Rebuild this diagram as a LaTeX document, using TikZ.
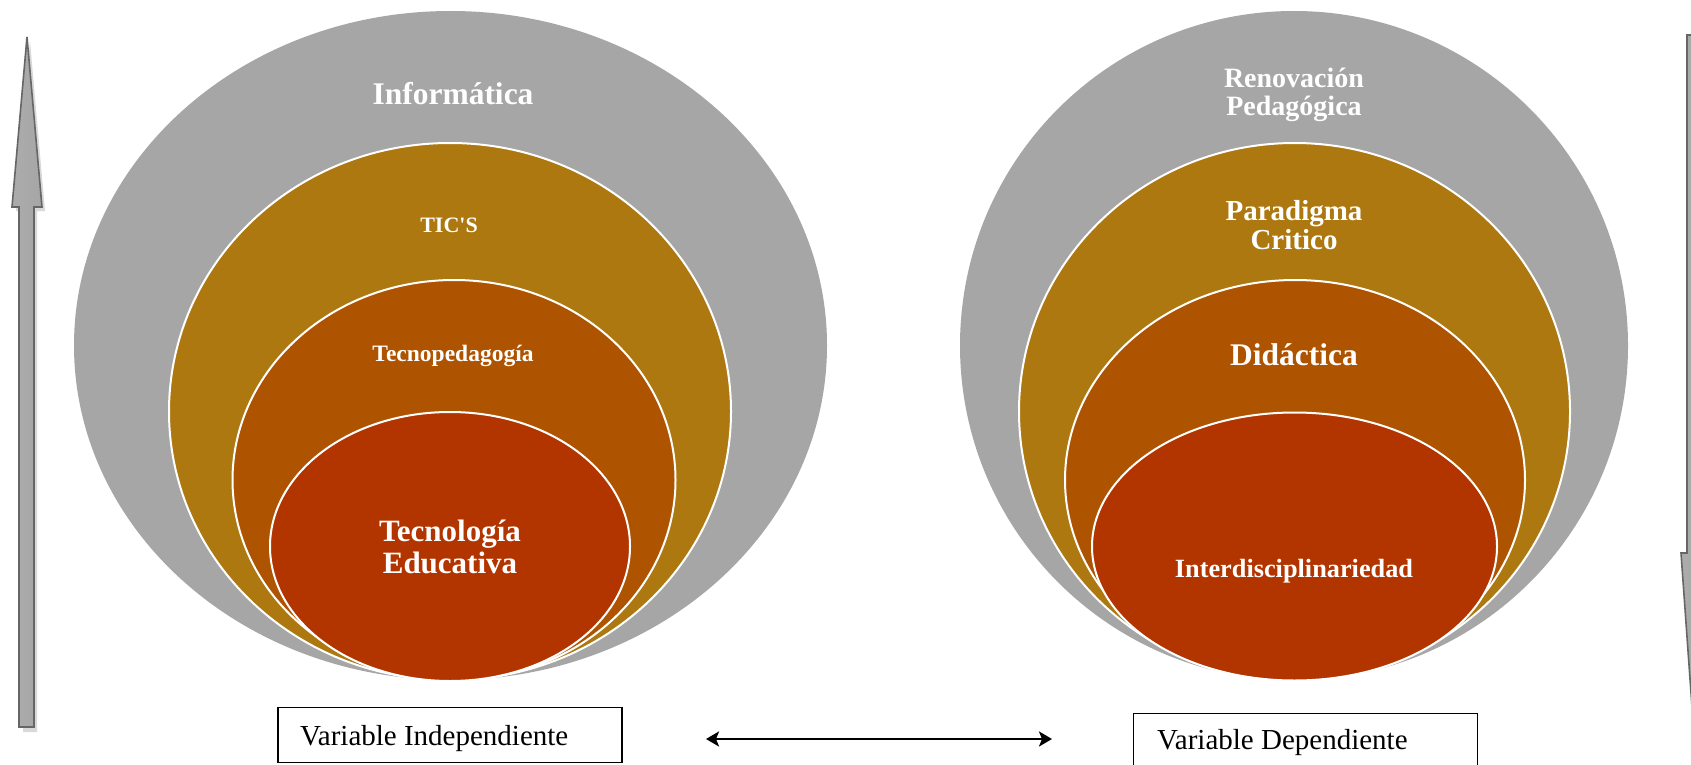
\documentclass[tikz,border=0pt]{standalone}
\usepackage{fontspec}
\setmainfont{Liberation Serif}
\usetikzlibrary{arrows.meta}
\definecolor{ringgray}{HTML}{A6A6A6}
\definecolor{ringgold}{HTML}{AC780F}
\definecolor{ringmid}{HTML}{AE5300}
\definecolor{ringred}{HTML}{B23500}
\definecolor{arrowline}{HTML}{666666}
\tikzset{
  ring/.style={draw=white, line width=2pt},
  lbl/.style={text=white, font=\bfseries, align=center, inner sep=0pt},
  varbox/.style={draw=black, line width=1.6pt, minimum width=344pt, minimum height=55pt, inner sep=0pt},
  vartext/.style={font=\fontsize{29}{32}\selectfont, anchor=west, inner sep=0pt},
  bigarrow/.style={draw=arrowline, line width=1.6pt, left color=gray!65, middle color=gray!30, right color=gray!70},
  arrowshadow/.style={fill=gray!30, draw=none},
  link/.style={line width=2.4pt, {Stealth[length=13pt,width=15pt,inset=3pt]}-{Stealth[length=13pt,width=15pt,inset=3pt]}}
}
\begin{document}
\begin{tikzpicture}[x=1pt,y=-1pt]
\useasboundingbox (0,0) rectangle (1691,765);
\clip (0,0) rectangle (1691,765);
\fill[white] (0,0) rectangle (1691,765);

% ---- left vertical arrow ----
\fill[arrowshadow] (30,41) -- (45,211) -- (37,211) -- (37,732) -- (23,732) -- (23,211) -- (16,211) -- cycle;
\path[bigarrow] (27,37) -- (42,207) -- (34,207) -- (34,727) -- (19,727) -- (19,207) -- (12,207) -- cycle;

% ---- right vertical arrow ----
\fill[arrowshadow] (1690,39) -- (1706,39) -- (1706,557) -- (1712,557) -- (1698,740) -- (1685,557) -- (1690,557) -- cycle;
\path[bigarrow] (1687,35) -- (1701,35) -- (1701,553) -- (1707,553) -- (1694,735) -- (1681,553) -- (1687,553) -- cycle;

% ---- left target ----
\fill[ringgray] (450.5,345.5) ellipse [x radius=376.5pt, y radius=334.5pt];
\filldraw[ring, fill=ringgold] (450,411.5) ellipse [x radius=281pt, y radius=268.5pt];
\filldraw[ring, fill=ringmid] (454,480) ellipse [x radius=221.5pt, y radius=200pt];
\filldraw[ring, fill=ringred] (450,546.5) ellipse [x radius=180pt, y radius=134.5pt];

\node[lbl, font=\bfseries\fontsize{31.5}{32}\selectfont] (inf) at (453,94) {Informática};
\node[lbl, font=\bfseries\fontsize{22}{24}\selectfont] (tics) at (449,225) {TIC\textquotesingle S};
\node[lbl, font=\bfseries\fontsize{23.5}{25}\selectfont] (tecp) at (453,356) {Tecnopedagogía};
\node[lbl, font=\bfseries\fontsize{31}{32}\selectfont] (tece) at (450,547) {Tecnología\\Educativa};

% ---- right target ----
\fill[ringgray] (1294,345.5) ellipse [x radius=334pt, y radius=334.5pt];
\filldraw[ring, fill=ringgold] (1294.5,411.5) ellipse [x radius=275.5pt, y radius=268.5pt];
\filldraw[ring, fill=ringmid] (1295,480) ellipse [x radius=230pt, y radius=200pt];
\filldraw[ring, fill=ringred] (1294.5,546.5) ellipse [x radius=202.5pt, y radius=134pt];

\node[lbl, font=\bfseries\fontsize{28}{28.5}\selectfont] (ren) at (1294,95) {Renovación\\Pedagógica};
\node[lbl, font=\bfseries\fontsize{29}{29.5}\selectfont] (par) at (1294,225) {Paradigma\\Critico};
\node[lbl, font=\bfseries\fontsize{31.5}{32}\selectfont] (did) at (1294,355) {Didáctica};
\node[lbl, font=\bfseries\fontsize{26.3}{28}\selectfont] (int) at (1294,571) {Interdisciplinariedad};

% ---- variable boxes ----
\node[varbox] (vi) at (450,735) {};
\node[vartext] (vit) at (300,739) {Variable Independiente};
\node[varbox] (vd) at (1305.5,741) {};
\node[vartext] (vdt) at (1157,743) {Variable Dependiente};

\coordinate (al) at (706,739);
\coordinate (ar) at (1052,739);
\draw[link] (al) -- (ar);
\end{tikzpicture}
\end{document}
